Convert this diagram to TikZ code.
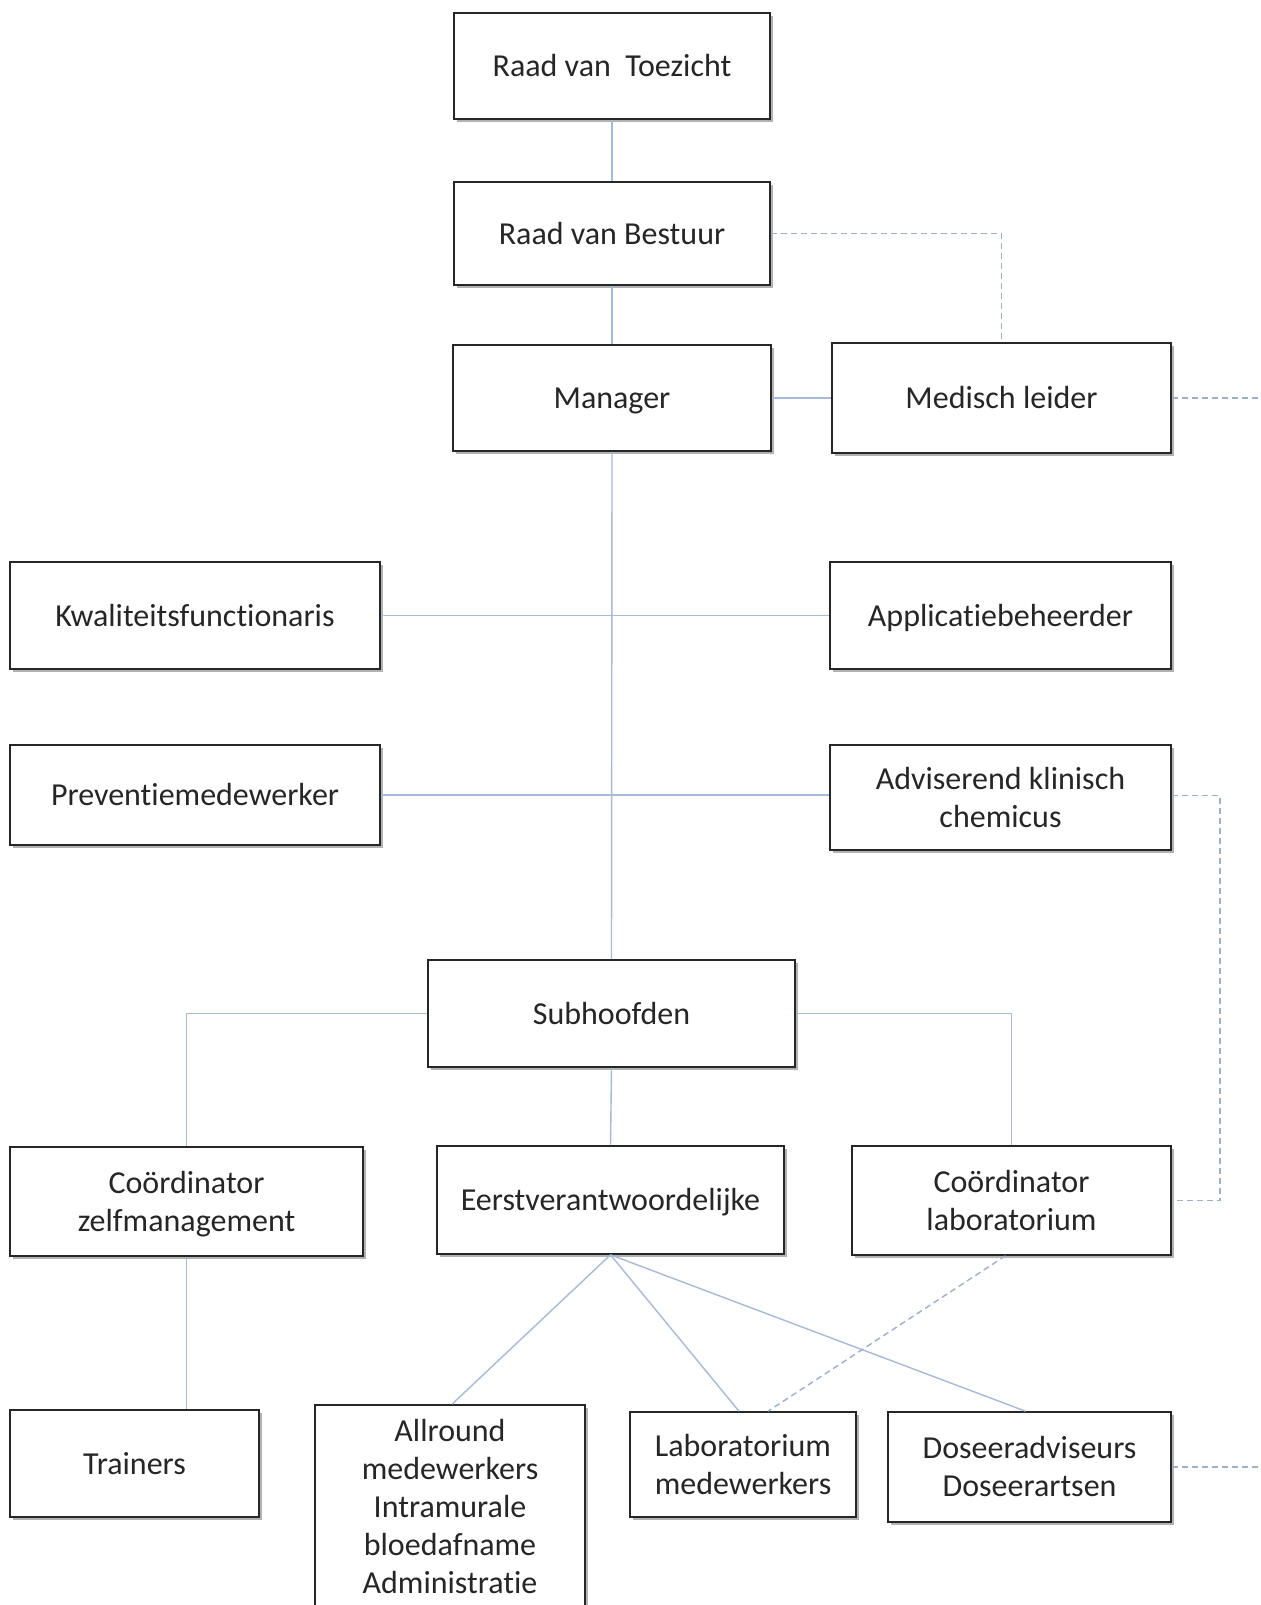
\documentclass[tikz,border=0pt]{standalone}
\usepackage{fontspec}
\setmainfont[Ligatures=NoCommon]{Carlito}
\usetikzlibrary{shadows}
\definecolor{lineblue}{HTML}{A7BAD8}
\definecolor{dashblue}{HTML}{9DAFCB}
\definecolor{txt}{HTML}{262626}
\newcommand\ms{\rule[-8.4pt]{0pt}{38pt}}
\begin{document}
\begin{tikzpicture}[x=1pt,y=1pt,
  box/.style={draw=black!85, line width=1.6pt, fill=white, inner sep=0pt,
    align=center, text=txt, font=\fontsize{32}{38}\selectfont,
    drop shadow={shadow xshift=3pt, shadow yshift=-3pt, fill=black, opacity=0.3}},
  conn/.style={draw=lineblue, line width=1.4pt},
  dconn/.style={draw=dashblue, line width=1.4pt, dash pattern=on 6pt off 4pt}]
\useasboundingbox[fill=white] (0,0) rectangle (1260,-1605);

\node[box, minimum width=316, minimum height=106] (rvt) at (612,-66) {\ms Raad van~~Toezicht};
\node[box, minimum width=316, minimum height=103] (rvb) at (612,-233.5) {\ms Raad van Bestuur};
\node[box, minimum width=318, minimum height=106] (man) at (612,-398) {\ms Manager};
\node[box, minimum width=339, minimum height=110] (med) at (1001.5,-398) {\ms Medisch leider};
\node[box, minimum width=370, minimum height=107] (kwa) at (195,-615.5) {\ms Kwaliteitsfunctionaris};
\node[box, minimum width=341, minimum height=107] (app) at (1000.5,-615.5) {\ms Applicatiebeheerder};
\node[box, minimum width=370, minimum height=100] (pre) at (195,-795) {\ms Preventiemedewerker};
\node[box, minimum width=341, minimum height=105] (adv) at (1000.5,-797.5) {\ms Adviserend klinisch\\\ms chemicus};
\node[box, minimum width=367, minimum height=107] (sub) at (611.5,-1013.5) {\ms Subhoofden};
\node[box, minimum width=353, minimum height=109] (czm) at (186.5,-1201.5) {\ms Coördinator\\\ms zelfmanagement};
\node[box, minimum width=347, minimum height=108] (eer) at (610.5,-1200) {\ms Eerstverantwoordelijke};
\node[box, minimum width=319, minimum height=109] (clab) at (1011.5,-1200.5) {\ms Coördinator\\\ms laboratorium};
\node[box, minimum width=249, minimum height=107] (tra) at (134.5,-1463.5) {\ms Trainers};
\node[box, minimum width=270, minimum height=204] (all) at (450,-1507) {\ms Allround\\\ms medewerkers\\\ms Intramurale\\\ms bloedafname\\\ms Administratie};
\node[box, minimum width=226, minimum height=105] (lab) at (743,-1464.5) {\ms Laboratorium\\\ms medewerkers};
\node[box, minimum width=283, minimum height=110] (dos) at (1029.5,-1467) {\ms Doseeradviseurs\\\ms Doseerartsen};

\coordinate (edgeR) at (1260,0);

% solid connectors
\draw[conn] (rvt.south) -- (rvb.north);
\draw[conn] (rvb.south) -- (man.north);
\draw[conn] (man.east) -- (med.west);
\draw[conn] (man.south) -- (sub.north);
\draw[conn] (kwa.east) -- (app.west);
\draw[conn] (pre.east) -- (pre.east -| adv.west);
\draw[conn] (sub.west) -| (czm.north);
\draw[conn] (sub.east) -| (clab.north);
\draw[conn] (sub.south) -- (eer.north);
\draw[conn] (czm.south) -- (czm.south |- tra.north);
\draw[conn] (eer.south) -- ([xshift=2]all.north);
\draw[conn] (eer.south) -- ([xshift=-4]lab.north);
\draw[conn] (eer.south) -- ([xshift=-4]dos.north);

% dashed connectors
\draw[dconn] (rvb.east) -| (med.north);
\draw[dconn] (med.east) -- (med.east -| edgeR);
\draw[dconn] ([yshift=2]adv.east) -- ++(48,0) |- (clab.east);
\draw[dconn] ([xshift=-6]clab.south) -- ([xshift=25]lab.north);
\draw[dconn] (dos.east) -- (dos.east -| edgeR);
\end{tikzpicture}
\end{document}
